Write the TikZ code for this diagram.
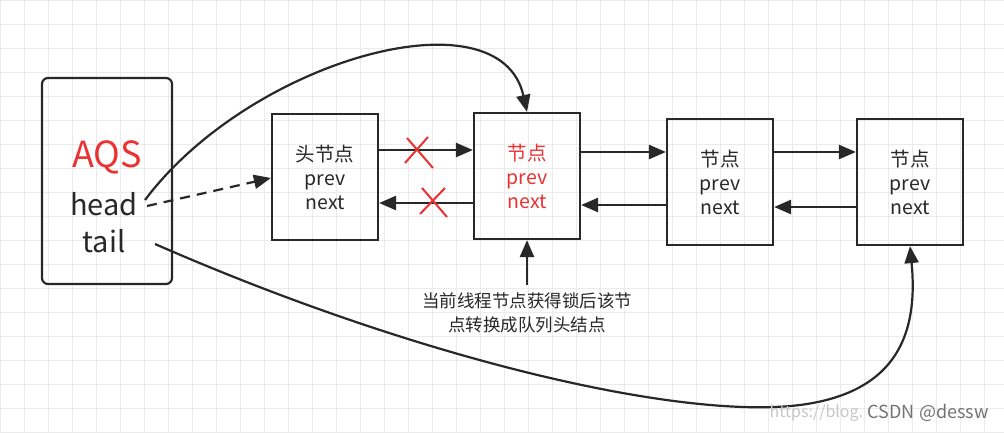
\documentclass[tikz,border=0pt]{standalone}
\usepackage{fontspec}
\setmainfont{Noto Sans CJK SC}
\usetikzlibrary{arrows.meta}
\definecolor{redc}{RGB}{235,50,50}
\definecolor{linec}{RGB}{40,40,40}
\begin{document}
\begin{tikzpicture}[x=1pt,y=-1pt,
  nd/.style={draw=linec,line width=2.2pt,minimum width=106pt,minimum height=126pt,inner sep=0pt,align=center,font=\fontsize{19.5}{24}\selectfont,text=linec},
  arr/.style={draw=linec,line width=2.6pt,-{Triangle[length=17pt,width=14pt]}},
  xm/.style={draw=redc,line width=2pt}]
\fill[white] (0,0) rectangle (1004,432);
\useasboundingbox (0,0) rectangle (1004,432);
\draw[black!8,line width=0.8pt,step=24pt] (0,0) grid (1004,432);
\node[nd,rounded corners=6pt,minimum width=130pt,minimum height=206pt] (aqs) at (107,181) {};
\node[text=redc,font=\fontsize{36}{40}\selectfont] (aqst) at (107,157) {AQS};
\node[text=linec,font=\fontsize{29}{32}\selectfont] (head) at (104,204) {head};
\node[text=linec,font=\fontsize{29}{32}\selectfont] (tail) at (104,241) {tail};
\node[nd] (n1) at (325,177) {头节点\\prev\\next};
\node[nd,text=redc] (n2) at (527,176) {节点\\prev\\next};
\node[nd] (n3) at (720,182) {节点\\prev\\next};
\node[nd] (n4) at (910,182) {节点\\prev\\next};
\draw[arr] (n1.east|-0,150) -- (n2.west|-0,150);
\draw[arr] (n2.west|-0,203) -- (n1.east|-0,203);
\draw[arr] (n2.east|-0,152) -- (n3.west|-0,152);
\draw[arr] (n3.west|-0,205) -- (n2.east|-0,205);
\draw[arr] (n3.east|-0,152) -- (n4.west|-0,152);
\draw[arr] (n4.west|-0,207) -- (n3.east|-0,207);
\draw[xm] (407,138) -- (433,168) (405,163) -- (428,137);
\draw[xm] (422,188) -- (447,217) (420,214) -- (445,188);
\coordinate (hs) at (145,200);
\coordinate (ts) at (155,244);
\draw[arr,line width=2.2pt] (hs) .. controls (250,60) and (500,-10) .. (n2.north);
\draw[arr,line width=2.2pt,dashed,dash pattern=on 10pt off 7pt] (147,206) -- (n1.west|-0,178);
\draw[arr,line width=2.2pt] (ts) .. controls (420,360) and (680,420) .. (800,405) .. controls (900,392) and (918,330) .. (n4.south);
\node[text=linec,font=\fontsize{17.5}{24}\selectfont,align=center] (cap) at (527,313) {当前线程节点获得锁后该节\\点转换成队列头结点};
\draw[arr] (cap.north) ++(0,-4) coordinate (cs) -- (n2.south);
\node[text=black!55,font=\fontsize{18}{18}\selectfont,anchor=east] (csdn) at (992,413) {CSDN @dessw};
\node[text=black!22,font=\fontsize{16}{18}\selectfont,anchor=east,inner sep=1pt] (wm) at (csdn.west) {https://blog.};
\end{tikzpicture}
\end{document}
